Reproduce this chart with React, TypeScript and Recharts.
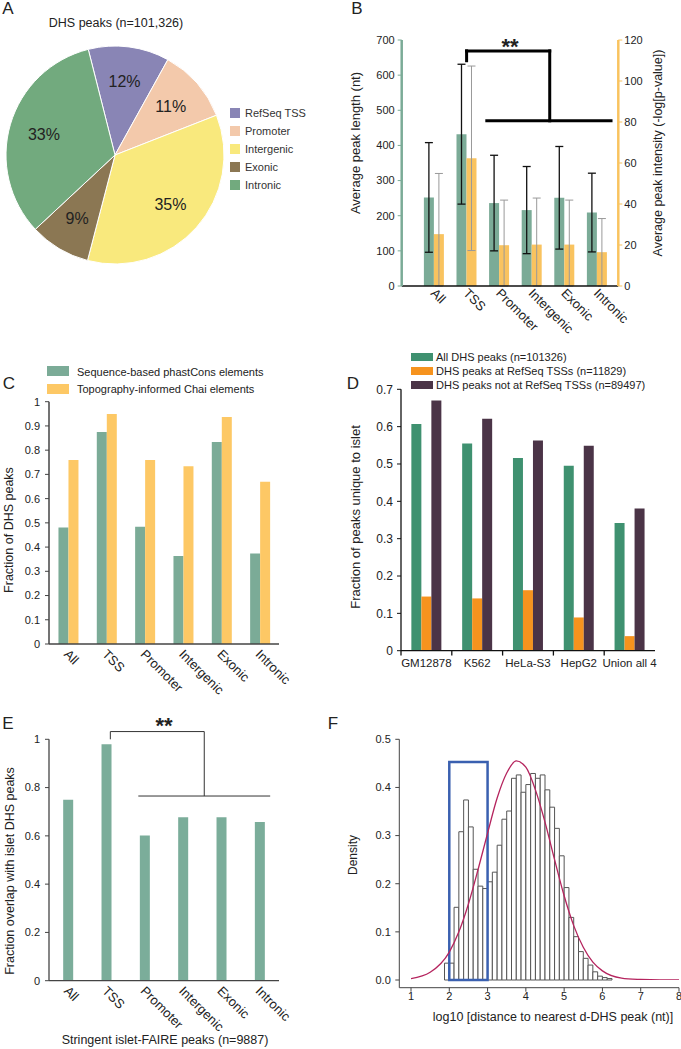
import React from 'react';
import {
  PieChart, Pie, Cell, Legend, BarChart, Bar, XAxis, YAxis, ErrorBar,
  ReferenceLine, ReferenceArea, ComposedChart, Line,
} from 'recharts';

const FONT = '"Liberation Sans", Arial, Helvetica, sans-serif';
const INK = '#222';

// ---------- Panel A ----------
const pieNames = ['RefSeq TSS', 'Promoter', 'Intergenic', 'Exonic', 'Intronic'];
const pieValues = [12, 11, 35, 9, 33];
const pieColors = ['#8985b5', '#f3c9ab', '#f9e97d', '#8b7753', '#72aa7e'];

// ---------- Panel B ----------
const bCategories = ['All', 'TSS', 'Promoter', 'Intergenic', 'Exonic', 'Intronic'];
const bLength = [252, 432, 236, 216, 251, 209];
const bLengthSD = [156, 199, 136, 124, 146, 112];
const bIntensity = [25.3, 62.3, 19.9, 20.2, 20.2, 16.5];
const bIntensityLow = [25.3, 45, 19.9, 20.2, 20.2, 16.5];
const bIntensityHigh = [29.6, 45, 22, 22.7, 21.7, 16.4];
const bLeftTicks = [0, 100, 200, 300, 400, 500, 600, 700];
const bRightTicks = [0, 20, 40, 60, 80, 100, 120];
const bBracket = [
  [{ x: 1, y: 641 }, { x: 1, y: 669 }],
  [{ x: 1, y: 669 }, { x: 3.55, y: 669 }],
  [{ x: 3.55, y: 669 }, { x: 3.55, y: 470 }],
  [{ x: 1.62, y: 470 }, { x: 5.43, y: 470 }],
];

// ---------- Panel C ----------
const cCategories = ['All', 'TSS', 'Promoter', 'Intergenic', 'Exonic', 'Intronic'];
const cPhastCons = [0.481, 0.875, 0.484, 0.363, 0.834, 0.374];
const cChai = [0.759, 0.949, 0.759, 0.734, 0.937, 0.67];
const cTicks = [0, 0.1, 0.2, 0.3, 0.4, 0.5, 0.6, 0.7, 0.8, 0.9, 1];
const cSeriesNames = ['Sequence-based phastCons elements', 'Topography-informed Chai elements'];

// ---------- Panel D ----------
const dCategories = ['GM12878', 'K562', 'HeLa-S3', 'HepG2', 'Union all 4'];
const dAll = [0.607, 0.555, 0.516, 0.495, 0.342];
const dAtTSS = [0.145, 0.14, 0.162, 0.089, 0.039];
const dNotTSS = [0.67, 0.621, 0.563, 0.549, 0.381];
const dTicks = [0, 0.1, 0.2, 0.3, 0.4, 0.5, 0.6, 0.7];
const dSeriesNames = [
  'All DHS peaks (n=101326)',
  'DHS peaks at RefSeq TSSs (n=11829)',
  'DHS peaks not at RefSeq TSSs (n=89497)',
];
const dBoundaries = [-0.5, 0.5, 1.5, 2.5, 3.5];

// ---------- Panel E ----------
const eCategories = ['All', 'TSS', 'Promoter', 'Intergenic', 'Exonic', 'Intronic'];
const eOverlap = [0.75, 0.979, 0.601, 0.677, 0.677, 0.657];
const eTicks = [0, 0.2, 0.4, 0.6, 0.8, 1];
const eBracket = [
  [{ x: 1.1, y: 1.0 }, { x: 1.1, y: 1.032 }],
  [{ x: 1.1, y: 1.032 }, { x: 3.55, y: 1.032 }],
  [{ x: 3.55, y: 1.032 }, { x: 3.55, y: 0.765 }],
  [{ x: 1.83, y: 0.765 }, { x: 5.27, y: 0.765 }],
];

// ---------- Panel F ----------
const histBinStart = 1.875;
const histBinWidth = 0.125;
const histDensity = [
  0.035, 0.035, 0.151, 0.308, 0.374, 0.318, 0.23, 0.195, 0.19, 0.204,
  0.224, 0.28, 0.334, 0.351, 0.419, 0.426, 0.39, 0.406, 0.429, 0.419,
  0.426, 0.395, 0.359, 0.315, 0.258, 0.192, 0.13, 0.09, 0.059, 0.045,
  0.031, 0.017, 0.008, 0.005, 0.003,
];
const curveX = [1.0, 1.5, 2.0, 2.25, 2.5, 2.75, 3.0, 3.25, 3.5, 3.75, 4.0, 4.25, 4.5, 4.75, 5.0, 5.25, 5.5, 5.75, 6.0, 6.5, 7.0, 7.5, 8.0];
const curveY = [0.003, 0.016, 0.058, 0.1, 0.158, 0.229, 0.305, 0.378, 0.43, 0.455, 0.442, 0.395, 0.328, 0.25, 0.175, 0.113, 0.068, 0.037, 0.019, 0.004, 0.001, 0.0, 0.0];
const fBox = { x1: 2, x2: 3, y1: 0, y2: 0.453 };
const fXTicks = [1, 2, 3, 4, 5, 6, 7, 8];
const fYTicks = [0, 0.1, 0.2, 0.3, 0.4, 0.5];

// ---------- derived tables ----------
const pieData = pieNames.map((name, i) => ({ name, value: pieValues[i] }));
const bData = bCategories.map((name, i) => ({
  name, idx: i, len: bLength[i], lenErr: bLengthSD[i],
  int: bIntensity[i], intErr: [bIntensityLow[i], bIntensityHigh[i]],
}));
const cData = cCategories.map((name, i) => ({ name, idx: i, phast: cPhastCons[i], chai: cChai[i] }));
const dData = dCategories.map((name, i) => ({ name, idx: i, all: dAll[i], tss: dAtTSS[i], not: dNotTSS[i] }));
const eData = eCategories.map((name, i) => ({ name, idx: i, v: eOverlap[i] }));
const curveData = curveX.map((x, i) => ({ x, y: curveY[i] }));
const histBins = histDensity.map((d, i) => ({
  x1: histBinStart + i * histBinWidth,
  x2: histBinStart + (i + 1) * histBinWidth,
  d,
}));

// ---------- colours ----------
const B_GREEN = '#7bab97';
const B_ORANGE = '#f9c35f';
const C_GREEN = '#7bab97';
const C_ORANGE = '#fdc865';
const D_GREEN = '#3f9170';
const D_ORANGE = '#f6931e';
const D_PURPLE = '#4b3447';
const E_GREEN = '#7bad9a';

const RAD = Math.PI / 180;

const Txt = ({ x, y, size = 12, rot = 0, anchor = 'middle', weight = 'normal', children }: any) => (
  <div
    style={{
      position: 'absolute', left: x, top: y,
      transform: `translate(${anchor === 'start' ? '0' : '-50%'}, -50%) rotate(${rot}deg)`,
      fontSize: size, lineHeight: 1, whiteSpace: 'nowrap', fontFamily: FONT,
      color: INK, fontWeight: weight,
    }}
  >
    {children}
  </div>
);

const Box = ({ x, y, w, h, color }: any) => (
  <div style={{ position: 'absolute', left: x, top: y, width: w, height: h, background: color }} />
);

const RotTick = (props: any) => {
  const { x, y, payload, ox, oy } = props;
  return (
    <g transform={`translate(${x + ox},${y + oy}) rotate(45)`}>
      <text x={0} y={0} textAnchor="start" fontSize={13} fill={INK} fontFamily={FONT}>
        {payload.value}
      </text>
    </g>
  );
};

const pieLabel = (p: any) => {
  const r = p.outerRadius * 0.68;
  const x = p.cx + r * Math.cos(-p.midAngle * RAD);
  const y = p.cy + r * Math.sin(-p.midAngle * RAD);
  const v = p.value ?? (p.payload && p.payload.value);
  return (
    <text x={x} y={y} textAnchor="middle" dominantBaseline="central" fontSize={16} fill={INK} fontFamily={FONT}>
      {`${v}%`}
    </text>
  );
};

const pieLegend = () => (
  <div style={{ fontFamily: FONT, fontSize: 11, color: '#333' }}>
    {pieNames.map((n, i) => (
      <div key={n} style={{ display: 'flex', alignItems: 'center', height: 18 }}>
        <div style={{ width: 10, height: 10, background: pieColors[i], marginRight: 5 }} />
        <span>{n}</span>
      </div>
    ))}
  </div>
);

const tickStyle = (size: number) => ({ fontSize: size, fill: INK, fontFamily: FONT });

export default function App() {
  return (
    <div style={{ position: 'absolute', left: 0, top: 0, width: 681, height: 1049, background: '#fff', overflow: 'hidden', fontFamily: FONT }}>
      {/* Panel letters */}
      <Txt x={8} y={8} size={17}>A</Txt>
      <Txt x={357} y={8} size={17}>B</Txt>
      <Txt x={9} y={383} size={17}>C</Txt>
      <Txt x={353} y={383} size={17}>D</Txt>
      <Txt x={8} y={723} size={17}>E</Txt>
      <Txt x={333} y={723} size={17}>F</Txt>

      {/* ---------- A ---------- */}
      <Txt x={116} y={23} size={12.5}>DHS peaks (n=101,326)</Txt>
      <div style={{ position: 'absolute', left: 0, top: 0 }}>
        <PieChart width={340} height={300}>
          <Pie
            data={pieData} dataKey="value" nameKey="name" cx={110} cy={150} outerRadius={109}
            startAngle={104.2} endAngle={-255.8} stroke="#fff" strokeWidth={1}
            label={pieLabel} labelLine={false} isAnimationActive={false}
          >
            {pieData.map((d, i) => <Cell key={d.name} fill={pieColors[i]} />)}
          </Pie>
          <Legend content={pieLegend} wrapperStyle={{ left: 230, top: 104, width: 110 }} />
        </PieChart>
      </div>

      {/* ---------- B ---------- */}
      <Txt x={355} y={143} size={13} rot={-90}>Average peak length (nt)</Txt>
      <Txt x={658} y={153} size={12.5} rot={-90}>Average peak intensity (-log[p-value])</Txt>
      <Txt x={510} y={47} size={22} weight="bold">**</Txt>
      <div style={{ position: 'absolute', left: 340, top: 0 }}>
        <BarChart width={341} height={340} data={bData} margin={{ top: 40, right: 0, bottom: 0, left: 0 }} barCategoryGap="19%" barGap={0}>
          <XAxis
            xAxisId="cat" dataKey="name" height={54} padding={{ left: 16, right: 5 }} interval={0}
            tickLine={false} tickSize={0} tickMargin={0} axisLine={{ stroke: '#111', strokeWidth: 1.5 }}
            tick={(p: any) => <RotTick {...p} ox={-4} oy={8} />}
          />
          <XAxis xAxisId="num" type="number" dataKey="idx" domain={[-0.5, 5.5]} padding={{ left: 16, right: 5 }} allowDataOverflow hide />
          <YAxis
            yAxisId="left" width={61.7} domain={[0, 700]} ticks={bLeftTicks} interval={0}
            axisLine={{ stroke: B_GREEN, strokeWidth: 2.5 }} tickLine={{ stroke: B_GREEN }} tickSize={4} tickMargin={3}
            tick={tickStyle(11)}
          />
          <YAxis
            yAxisId="right" orientation="right" width={62.7} domain={[0, 120]} ticks={bRightTicks} interval={0}
            axisLine={{ stroke: B_ORANGE, strokeWidth: 2.5 }} tickLine={{ stroke: B_ORANGE }} tickSize={4} tickMargin={2}
            tick={tickStyle(11)}
          />
          <Bar xAxisId="cat" yAxisId="left" dataKey="len" fill={B_GREEN} isAnimationActive={false}>
            <ErrorBar dataKey="lenErr" width={4} stroke="#111" strokeWidth={1.3} />
          </Bar>
          <Bar xAxisId="cat" yAxisId="right" dataKey="int" fill={B_ORANGE} isAnimationActive={false}>
            <ErrorBar dataKey="intErr" width={4} stroke="#999" strokeWidth={1} />
          </Bar>
          {bBracket.map((seg, i) => (
            <ReferenceLine key={i} xAxisId="num" yAxisId="left" segment={seg} stroke="#000" strokeWidth={3} strokeLinecap="square" ifOverflow="visible" />
          ))}
        </BarChart>
      </div>

      {/* ---------- C ---------- */}
      <Box x={47} y={366} w={22} h={10} color={C_GREEN} />
      <Box x={47} y={383.5} w={22} h={10} color={C_ORANGE} />
      <Txt x={77} y={372} size={11} anchor="start">{cSeriesNames[0]}</Txt>
      <Txt x={77} y={389} size={11} anchor="start">{cSeriesNames[1]}</Txt>
      <Txt x={9} y={530} size={12.5} rot={-90}>Fraction of DHS peaks</Txt>
      <div style={{ position: 'absolute', left: 0, top: 330 }}>
        <BarChart width={340} height={370} data={cData} margin={{ top: 71.7, right: 61, bottom: 0, left: 0 }} barCategoryGap="24.7%" barGap={0}>
          <XAxis
            dataKey="name" height={56} interval={0} tickLine={false} tickSize={0} tickMargin={0}
            axisLine={{ stroke: '#444', strokeWidth: 1.5 }}
            tick={(p: any) => <RotTick {...p} ox={-5} oy={11} />}
          />
          <YAxis
            width={49} domain={[0, 1]} ticks={cTicks} interval={0}
            axisLine={{ stroke: '#444', strokeWidth: 1.5 }} tickLine={{ stroke: '#444' }} tickSize={4} tickMargin={5}
            tick={tickStyle(11)}
          />
          <Bar dataKey="phast" fill={C_GREEN} isAnimationActive={false} />
          <Bar dataKey="chai" fill={C_ORANGE} isAnimationActive={false} />
        </BarChart>
      </div>

      {/* ---------- D ---------- */}
      <Box x={410.7} y={352.5} w={22} h={8.5} color={D_GREEN} />
      <Box x={410.7} y={366.8} w={22} h={8.5} color={D_ORANGE} />
      <Box x={410.7} y={380.5} w={22} h={8.5} color={D_PURPLE} />
      <Txt x={436} y={357} size={11} anchor="start">{dSeriesNames[0]}</Txt>
      <Txt x={436} y={371} size={11} anchor="start">{dSeriesNames[1]}</Txt>
      <Txt x={436} y={385} size={11} anchor="start">{dSeriesNames[2]}</Txt>
      <Txt x={355} y={517} size={13} rot={-90}>Fraction of peaks unique to islet</Txt>
      <div style={{ position: 'absolute', left: 340, top: 330 }}>
        <BarChart width={341} height={340} data={dData} margin={{ top: 59.3, right: 26, bottom: 0, left: 0 }} barCategoryGap="20.4%" barGap={0}>
          <XAxis
            xAxisId="cat" dataKey="name" height={19.3} interval={0} tickLine={false}
            axisLine={{ stroke: '#111', strokeWidth: 1.3 }} tick={tickStyle(11.5)}
          />
          <XAxis xAxisId="num" type="number" dataKey="idx" domain={[-0.5, 4.5]} allowDataOverflow hide />
          <YAxis
            width={61} domain={[0, 0.7]} ticks={dTicks} interval={0}
            axisLine={{ stroke: '#111', strokeWidth: 1.3 }} tickLine={{ stroke: '#111' }} tickSize={4} tickMargin={4}
            tick={tickStyle(12)}
          />
          <Bar xAxisId="cat" dataKey="all" fill={D_GREEN} isAnimationActive={false} />
          <Bar xAxisId="cat" dataKey="tss" fill={D_ORANGE} isAnimationActive={false} />
          <Bar xAxisId="cat" dataKey="not" fill={D_PURPLE} isAnimationActive={false} />
          {dBoundaries.map((b) => (
            <ReferenceLine key={b} xAxisId="num" segment={[{ x: b, y: 0 }, { x: b, y: -0.013 }]} stroke="#111" strokeWidth={1.3} ifOverflow="visible" />
          ))}
        </BarChart>
      </div>

      {/* ---------- E ---------- */}
      <Txt x={10} y={871} size={12.5} rot={-90}>Fraction overlap with islet DHS peaks</Txt>
      <Txt x={165} y={1040} size={12.5}>Stringent islet-FAIRE peaks (n=9887)</Txt>
      <Txt x={164} y={726} size={22} weight="bold">**</Txt>
      <div style={{ position: 'absolute', left: 0, top: 700 }}>
        <BarChart width={340} height={349} data={eData} margin={{ top: 39.3, right: 61, bottom: 0, left: 0 }} barCategoryGap="37%" barGap={0}>
          <XAxis
            xAxisId="cat" dataKey="name" height={68.3} interval={0} tickLine={false} tickSize={0} tickMargin={0}
            axisLine={{ stroke: '#444', strokeWidth: 1.3 }}
            tick={(p: any) => <RotTick {...p} ox={-5} oy={11} />}
          />
          <XAxis xAxisId="num" type="number" dataKey="idx" domain={[-0.5, 5.5]} allowDataOverflow hide />
          <YAxis
            width={49} domain={[0, 1]} ticks={eTicks} interval={0}
            axisLine={{ stroke: '#444', strokeWidth: 1.3 }} tickLine={{ stroke: '#444' }} tickSize={4} tickMargin={5}
            tick={tickStyle(11)}
          />
          <Bar xAxisId="cat" dataKey="v" fill={E_GREEN} isAnimationActive={false} />
          {eBracket.map((seg, i) => (
            <ReferenceLine key={i} xAxisId="num" segment={seg} stroke="#333" strokeWidth={1} ifOverflow="visible" />
          ))}
        </BarChart>
      </div>

      {/* ---------- F ---------- */}
      <Txt x={353} y={855} size={12} rot={-90}>Density</Txt>
      <Txt x={553} y={1017} size={12.5}>log10 [distance to nearest d-DHS peak (nt)]</Txt>
      <div style={{ position: 'absolute', left: 340, top: 700 }}>
        <ComposedChart width={341} height={349} data={curveData} margin={{ top: 39.3, right: 2, bottom: 0, left: 0 }}>
          <XAxis
            type="number" dataKey="x" domain={[1, 8]} ticks={fXTicks} interval={0} allowDataOverflow
            height={61.3} padding={{ left: 11.7, right: 0 }}
            axisLine={{ stroke: '#444' }} tickLine={{ stroke: '#444' }} tickSize={4} tickMargin={0}
            tick={tickStyle(11)}
          />
          <YAxis
            width={59.3} domain={[0, 0.5]} ticks={fYTicks} interval={0} allowDataOverflow
            padding={{ top: 0, bottom: 7.7 }}
            axisLine={{ stroke: '#444' }} tickLine={{ stroke: '#444' }} tickSize={4} tickMargin={4.5}
            tick={tickStyle(11)} tickFormatter={(v: number) => v.toFixed(1)}
          />
          {histBins.map((b, i) => (
            <ReferenceArea key={i} x1={b.x1} x2={b.x2} y1={0} y2={b.d} fill="#fff" fillOpacity={1} stroke="#555" strokeWidth={1} ifOverflow="visible" />
          ))}
          <ReferenceArea x1={fBox.x1} x2={fBox.x2} y1={fBox.y1} y2={fBox.y2} fill="none" fillOpacity={0} stroke="#3a60b0" strokeWidth={2.5} ifOverflow="visible" />
          <Line type="monotone" dataKey="y" stroke="#b5245e" strokeWidth={1.3} dot={false} isAnimationActive={false} />
        </ComposedChart>
      </div>
    </div>
  );
}
